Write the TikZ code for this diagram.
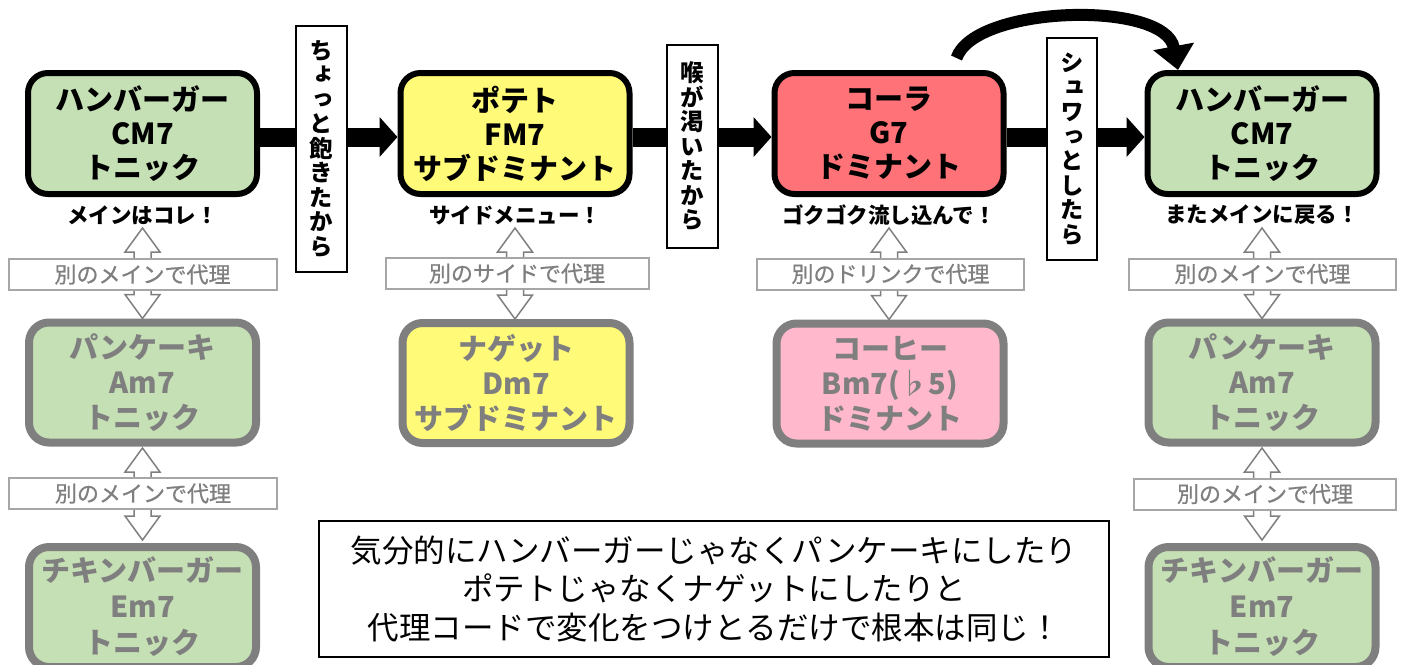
\documentclass[tikz,border=0pt]{standalone}
\usepackage{fontspec}
\setmainfont{Noto Sans CJK JP}
\newfontfamily\vjp{Noto Sans CJK JP}[RawFeature=+vert]
\newfontfamily\jpmed{Noto Sans CJK JP}[FakeBold=0.8]
\usetikzlibrary{arrows.meta,calc}
\definecolor{cgreen}{HTML}{C5E0B4}
\definecolor{cyellow}{HTML}{FFFA78}
\definecolor{cred}{HTML}{FF7378}
\definecolor{cpink}{HTML}{FFB8CC}
\definecolor{cgray}{HTML}{7F7F7F}
\definecolor{lgray}{HTML}{A6A6A6}
\tikzset{
 mainbox/.style={draw=black, line width=6pt, rounded corners=20pt, minimum width=229pt, minimum height=121pt, align=center, inner sep=0pt, font=\bfseries\fontsize{29}{34}\selectfont},
 subbox/.style={draw=cgray, line width=8pt, rounded corners=20pt, minimum width=227pt, minimum height=120pt, align=center, inner sep=0pt, text=cgray, font=\bfseries\fontsize{29}{35}\selectfont},
 capt/.style={font=\bfseries\fontsize{21.5}{21.5}\selectfont, inner sep=0pt},
 sublabel/.style={draw=lgray, line width=2pt, fill=white, minimum height=31pt, inner sep=0pt, text=cgray, font=\jpmed\fontsize{22}{22}\selectfont},
 vbox/.style={draw=black, line width=2pt, fill=white, inner sep=0pt, align=center, font=\vjp\bfseries\fontsize{23.5}{24.5}\selectfont},
 bigarrow/.style={line width=19pt, -{Triangle[length=18pt,width=39pt]}},
 curvearrow/.style={line width=12pt, -{Triangle[length=24pt,width=40pt]}},
 harrow/.style={draw=cgray, line width=1.5pt, fill=white, line join=miter},
 note/.style={draw=black, line width=2pt, minimum width=790pt, minimum height=136pt, align=center, inner sep=0pt, font=\fontsize{31.5}{38.5}\selectfont}
}
\newcommand\hda[2]{\draw[harrow] let \p1=(#1), \p2=(#2) in
 (\x1,\y1) -- (\x1+17.5pt,\y1-24pt) -- (\x1+8.5pt,\y1-24pt) -- (\x1+8.5pt,\y2+24pt)
 -- (\x1+17.5pt,\y2+24pt) -- (\x1,\y2) -- (\x1-17.5pt,\y2+24pt) -- (\x1-8.5pt,\y2+24pt)
 -- (\x1-8.5pt,\y1-24pt) -- (\x1-17.5pt,\y1-24pt) -- cycle;}
\begin{document}
\begin{tikzpicture}[x=1pt,y=-1pt]
\useasboundingbox (0,0) rectangle (1405,664);
\clip (0,0) rectangle (1405,664);
% top row
\node[mainbox, fill=cgreen] (b11) at (142.5,133.5) {ハンバーガー\\CM7\\トニック};
\node[mainbox, fill=cyellow] (b12) at (515,133.5) {ポテト\\FM7\\サブドミナント};
\node[mainbox, fill=cred] (b13) at (889,133.5) {コーラ\\G7\\ドミナント};
\node[mainbox, fill=cgreen] (b14) at (1262,133.5) {ハンバーガー\\CM7\\トニック};
% captions
\node[capt] (cap1) at ([yshift=-18pt]b11.south) {メインはコレ！};
\node[capt] (cap2) at ([yshift=-18pt]b12.south) {サイドメニュー！};
\node[capt] (cap3) at ([yshift=-18pt]b13.south) {ゴクゴク流し込んで！};
\node[capt] (cap4) at ([yshift=-18pt]b14.south) {またメインに戻る！};
% second row
\node[subbox, fill=cgreen] (b21) at (142.5,382.5) {パンケーキ\\Am7\\トニック};
\node[subbox, fill=cyellow] (b22) at (516,383) {ナゲット\\Dm7\\サブドミナント};
\node[subbox, fill=cpink] (b23) at (890,383.5) {コーヒー\\Bm7(♭5)\\ドミナント};
\node[subbox, fill=cgreen] (b24) at (1262,382.5) {パンケーキ\\Am7\\トニック};
% third row
\node[subbox, fill=cgreen, font=\bfseries\fontsize{29}{36}\selectfont] (b31) at (142.5,607) {チキンバーガー\\Em7\\トニック};
\node[subbox, fill=cgreen, font=\bfseries\fontsize{29}{36}\selectfont] (b34) at (1262,607) {チキンバーガー\\Em7\\トニック};
% hollow double arrows
\hda{[yshift=-31pt]b11.south}{b21.north}
\hda{[yshift=-31pt]b12.south}{b22.north}
\hda{[yshift=-31pt]b13.south}{b23.north}
\hda{[yshift=-31pt]b14.south}{b24.north}
\hda{[yshift=-1.5pt]b21.south}{[yshift=3pt]b31.north}
\hda{[yshift=-1.5pt]b24.south}{[yshift=3pt]b34.north}
% substitution labels
\node[sublabel, minimum width=268pt] (l1) at (142.5,274.5) {別のメインで代理};
\node[sublabel, minimum width=263pt] (l2) at (517,273.5) {別のサイドで代理};
\node[sublabel, minimum width=267pt] (l3) at (890.5,274) {別のドリンクで代理};
\node[sublabel, minimum width=267pt] (l4) at (1262.5,274) {別のメインで代理};
\node[sublabel, minimum width=268pt] (l5) at (143,493.5) {別のメインで代理};
\node[sublabel, minimum width=262pt] (l6) at (1265,494) {別のメインで代理};
% main flow arrows
\draw[bigarrow] ([yshift=-3.5pt]b11.east) -- ([yshift=-3.5pt]b12.west);
\draw[bigarrow] ([yshift=-3.5pt]b12.east) -- ([yshift=-3.5pt]b13.west);
\draw[bigarrow] ([yshift=-3.5pt]b13.east) -- ([yshift=-3.5pt]b14.west);
\draw[curvearrow] ([xshift=-50pt,yshift=12pt]b13.north east) .. controls (975,5) and (1165,0) .. ([xshift=-84pt]b14.north);
% vertical reason boxes
\node[vbox, minimum width=51pt, minimum height=246pt] (vA) at (321.5,149) {ち\\ょ\\っ\\と\\飽\\き\\た\\か\\ら};
\node[vbox, minimum width=51pt, minimum height=203pt] (vB) at (692.5,146.5) {喉\\が\\渇\\い\\た\\か\\ら};
\node[vbox, minimum width=50pt, minimum height=222pt] (vC) at (1072,149) {シ\\ュ\\ワ\\っ\\と\\し\\た\\ら};
% note
\node[note] (note) at (714,589) {気分的にハンバーガーじゃなくパンケーキにしたり\\ポテトじゃなくナゲットにしたりと\\代理コードで変化をつけとるだけで根本は同じ！};
\end{tikzpicture}
\end{document}
